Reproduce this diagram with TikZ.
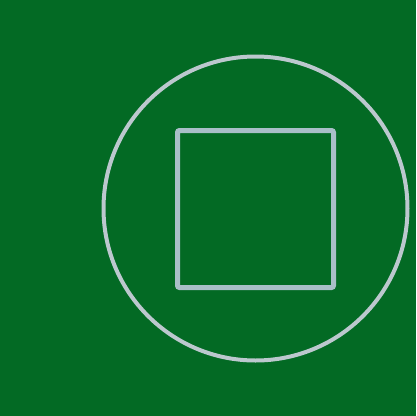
\documentclass[tikz,border=0pt]{standalone}
\usepackage{xcolor}
\definecolor{bggreen}{HTML}{036A24}
\definecolor{ringgrey}{HTML}{BCC8CE}
\definecolor{boxgrey}{HTML}{A9BFC8}

\begin{document}
\begin{tikzpicture}[x=1pt,y=-1pt]
% Background and frame
\fill[bggreen] (0,0) rectangle (416,416);
\useasboundingbox (0,0) rectangle (416,416);
% Outer ring and inner square
\draw[ringgrey,line width=4pt] (255.5,208.5) circle (152);
\draw[boxgrey,line width=5pt,rounded corners=2pt] (177.5,130.5) rectangle (333.5,287.5);
\end{tikzpicture}
\end{document}
